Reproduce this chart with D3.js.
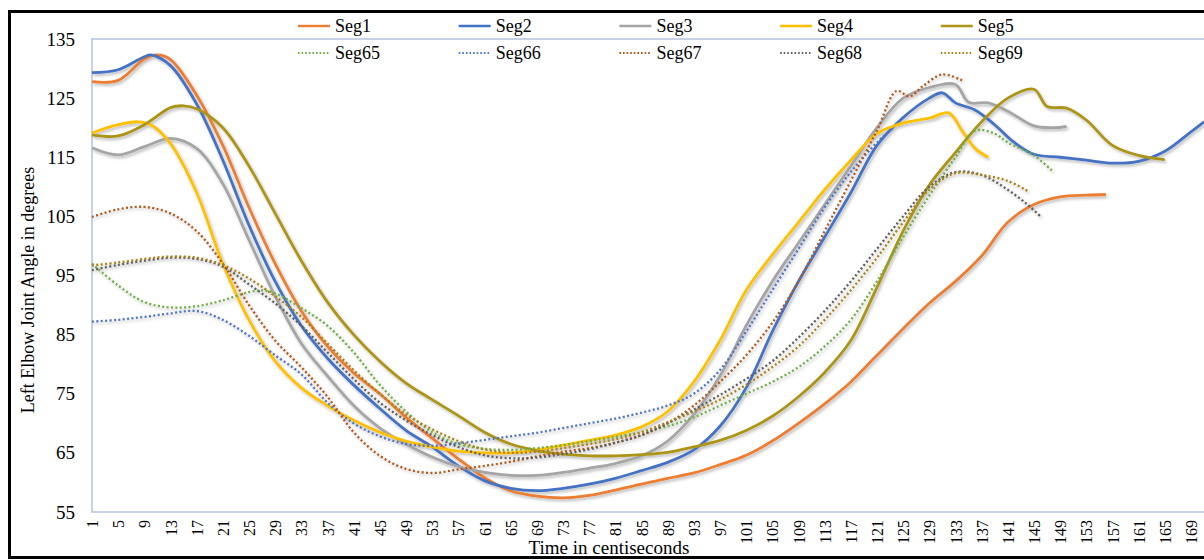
<!DOCTYPE html>
<html lang="en">
  <head>
    <meta charset="utf-8">
    <title>Left Elbow Joint Angle</title>
    <script src="https://cdn.jsdelivr.net/npm/d3@7"></script>
    <style>
      body { margin: 0; background: #fff; }
      svg text { font-family: "Liberation Serif", "Times New Roman", serif; fill: #000; }
    </style>
  </head>
  <body>
    <div id="chart"></div>
    <script>

// [time in centiseconds, angle in degrees]
var seg1 = [[1,127.8],[5,128],[9,131.6],[11,132.3],[13,131.5],[17,125.5],[21,117],[25,106.5],[29,97],[33,89],[37,83],[41,78.5],[45,75],[49,71],[53,67.5],[57,64],[61,60.8],[65,58.6],[69,57.7],[73,57.4],[77,57.8],[81,58.7],[85,59.7],[89,60.7],[93,61.6],[97,63],[101,64.6],[105,67],[109,70],[113,73.3],[117,77],[121,81.5],[125,86],[129,90.3],[133,94],[137,98.3],[141,104],[145,107],[149,108.3],[153,108.6],[156,108.7]];
var seg2 = [[1,129.3],[5,129.8],[9,132],[10,132.3],[13,130.5],[17,124],[21,114.5],[25,103.5],[29,94],[33,86.5],[37,81],[41,76.5],[45,72.5],[49,68.8],[53,66],[57,62.8],[61,60.3],[65,59],[69,58.6],[73,59],[77,59.7],[81,60.7],[85,62],[89,63.4],[93,65.5],[97,69.5],[101,76],[105,85.5],[109,94],[113,101.5],[117,109],[121,117],[125,121.7],[129,125],[131,125.9],[133,124.2],[136,123],[139,120.5],[142,117.5],[145,115.5],[149,115],[153,114.5],[157,114],[161,114.3],[165,116],[169,119.3],[171,121]];
var seg3 = [[1,116.6],[5,115.4],[9,116.8],[13,118.2],[17,116.5],[21,110.5],[25,101],[29,91.5],[33,83.5],[37,78],[41,73],[45,69.2],[49,66.5],[53,64.3],[57,62.7],[61,61.7],[65,61.2],[69,61.2],[73,61.7],[77,62.4],[81,63.2],[85,64.5],[89,67],[93,71.5],[97,78],[101,86.5],[105,94],[109,100.5],[113,107],[117,113.5],[121,120],[125,125],[129,126.8],[133,127.3],[135,124.3],[138,124.2],[141,122.8],[145,120.3],[148,120],[150,120.2]];
var seg4 = [[1,119.1],[5,120.5],[8,121],[10,120.5],[13,117.3],[17,109],[21,97],[25,87.5],[29,80.5],[33,76],[37,73],[41,70.5],[45,68.5],[49,67],[53,66],[57,65.3],[61,65],[65,65],[69,65.5],[73,66.3],[77,67.1],[81,68],[85,69.4],[89,72],[93,77],[97,84],[101,92.5],[105,98.5],[109,104],[113,109.5],[117,114.5],[121,119],[125,120.8],[129,121.6],[132,122.5],[134,119.5],[136,116.5],[138,115]];
var seg5 = [[1,118.8],[5,118.6],[9,120.5],[13,123.4],[15,123.7],[17,123.2],[21,120],[25,113.5],[29,105.5],[33,97.5],[37,90.5],[41,85],[45,80.5],[49,76.8],[53,74],[57,71.3],[61,68.5],[65,66.5],[69,65.4],[73,64.8],[77,64.5],[81,64.5],[85,64.7],[89,65.1],[93,66],[97,67.1],[101,68.8],[105,71.2],[109,74.5],[113,78.6],[117,84],[121,93],[125,102.5],[129,110.3],[133,115.8],[137,121],[141,125],[145,126.5],[147,123.6],[150,123.3],[153,121.3],[157,117],[161,115.3],[165,114.6]];
var seg65 = [[1,97],[5,93.3],[9,90.5],[13,89.6],[17,89.8],[21,90.8],[25,92.2],[27,92.5],[29,92],[33,89.5],[37,86.5],[41,82],[45,76.5],[49,72],[53,68.5],[57,66.5],[61,65.7],[65,65.5],[69,65.8],[73,66.3],[77,67],[81,67.7],[85,68.5],[89,69.5],[93,71],[97,73],[101,75],[105,77],[109,79.5],[113,83],[117,87.5],[121,94],[125,101.5],[129,108.5],[133,115],[136,119.5],[139,119],[141,117.5],[145,115.3],[148,112.5]];
var seg66 = [[1,87.2],[5,87.5],[9,88],[13,88.6],[17,89],[21,87.5],[25,84.8],[29,81.5],[33,78.3],[37,73.5],[41,70],[45,67.8],[49,66.5],[53,66.2],[57,66.6],[61,67.2],[65,67.8],[69,68.4],[73,69.2],[77,70],[81,70.8],[85,71.8],[89,73],[93,75],[97,79],[101,85.5],[105,92.5],[109,99.5],[113,106.5],[117,112.5],[121,117.5],[123,119.5]];
var seg67 = [[1,104.9],[5,106.2],[9,106.6],[13,105.5],[17,102.5],[21,97],[25,90],[29,84],[33,79.5],[37,74.5],[41,68.5],[45,64.5],[49,62.3],[53,61.6],[57,62.2],[61,62.8],[65,63.5],[69,64.4],[73,65.2],[77,65.8],[81,66.7],[85,68],[89,70],[93,73],[97,77],[101,81.5],[105,87],[109,94],[113,102.5],[117,111],[121,119.5],[124,126.2],[126,125.3],[128,127],[131,129],[134,128]];
var seg68 = [[1,95.9],[5,96.8],[9,97.5],[13,98],[17,97.8],[21,96.5],[25,93.5],[29,90.3],[33,86.5],[37,82],[41,77.5],[45,73.5],[49,70.5],[53,68],[57,66],[61,64.6],[65,64.1],[69,64.2],[73,64.8],[77,65.6],[81,66.7],[85,68],[89,70],[93,72.3],[97,74.8],[101,77.5],[105,80.5],[109,84.5],[113,89],[117,94],[121,99.5],[125,105],[129,110],[133,112.5],[137,112],[141,109.5],[144,107],[146,105]];
var seg69 = [[1,96.7],[5,97.2],[9,97.8],[13,98.2],[17,98],[21,96.8],[25,94.5],[29,91.5],[33,88],[37,83.5],[41,79],[45,75],[49,71.5],[53,69],[57,67],[61,65.6],[65,65],[69,65.2],[73,65.8],[77,66.5],[81,67.3],[85,68.5],[89,70.2],[93,72],[97,74],[101,76.5],[105,79.5],[109,83],[113,87.5],[117,92.5],[121,98],[125,104],[129,109.5],[133,112.3],[137,112],[141,111],[144,109.3]];

var seriesNames = ["Seg1", "Seg2", "Seg3", "Seg4", "Seg5", "Seg65", "Seg66", "Seg67", "Seg68", "Seg69"];
var seriesData = [seg1, seg2, seg3, seg4, seg5, seg65, seg66, seg67, seg68, seg69];
var seriesColors = ["#ED7D31", "#4472C4", "#A5A5A5", "#FFC000", "#AC9417",
                    "#70AD47", "#4F74C6", "#B4561A", "#5E5E5E", "#A8801A"];
var seriesDotted = [false, false, false, false, false, true, true, true, true, true];

var yTicks = [55, 65, 75, 85, 95, 105, 115, 125, 135];
var xTicks = d3.range(1, 170, 4);

var width = 1204, height = 560;
var plot = {left: 92, right: 1204, top: 39, bottom: 512};

var svg = d3.select("#chart").append("svg")
    .attr("width", width)
    .attr("height", height);

var defs = svg.append("defs");
defs.append("filter")
    .attr("id", "shadow")
    .attr("x", "-5%").attr("y", "-5%")
    .attr("width", "110%").attr("height", "110%")
  .append("feDropShadow")
    .attr("dx", 1.5).attr("dy", 2)
    .attr("stdDeviation", 1.5)
    .attr("flood-color", "#000")
    .attr("flood-opacity", 0.28);

// outer frame
svg.append("rect")
    .attr("x", 9.5).attr("y", 11.5)
    .attr("width", 1260).attr("height", 546)
    .attr("fill", "#fff")
    .attr("stroke", "#000")
    .attr("stroke-width", 3);

var x = d3.scaleLinear().domain([1, 171]).range([plot.left, plot.right]);
var y = d3.scaleLinear().domain([55, 135]).range([plot.bottom, plot.top]);

// plot area border
svg.append("rect")
    .attr("x", plot.left).attr("y", plot.top)
    .attr("width", plot.right - plot.left + 10)
    .attr("height", plot.bottom - plot.top)
    .attr("fill", "none")
    .attr("stroke", "#B4C3DE")
    .attr("stroke-width", 1.5);

var yAxis = svg.append("g")
    .attr("transform", "translate(" + plot.left + ",0)")
    .call(d3.axisLeft(y).tickValues(yTicks).tickSize(0).tickPadding(17));
yAxis.select(".domain").remove();
yAxis.selectAll("text")
    .style("font-size", "19px")
    .style("font-family", "'Liberation Serif', serif")
    .attr("fill", "#000");

var xAxis = svg.append("g")
    .attr("transform", "translate(0," + plot.bottom + ")")
    .call(d3.axisBottom(x).tickValues(xTicks).tickSize(0));
xAxis.select(".domain").remove();
xAxis.selectAll("text")
    .attr("transform", "rotate(-90)")
    .attr("x", -8)
    .attr("y", 0)
    .attr("dy", "0.35em")
    .style("text-anchor", "end")
    .style("font-size", "16px")
    .style("font-family", "'Liberation Serif', serif")
    .attr("fill", "#000");

svg.append("text")
    .attr("x", 609).attr("y", 554)
    .attr("text-anchor", "middle")
    .style("font-size", "19px")
    .text("Time in centiseconds");

svg.append("text")
    .attr("transform", "translate(34,290) rotate(-90)")
    .attr("text-anchor", "middle")
    .style("font-size", "18px")
    .text("Left Elbow Joint Angle in degrees");

var line = d3.line()
    .x(function(d) { return x(d[0]); })
    .y(function(d) { return y(d[1]); })
    .curve(d3.curveCatmullRom.alpha(0.5));

svg.append("g")
    .attr("filter", "url(#shadow)")
  .selectAll("path")
    .data(seriesData)
    .enter().append("path")
    .attr("d", line)
    .attr("fill", "none")
    .attr("stroke", function(d, i) { return seriesColors[i]; })
    .attr("stroke-width", function(d, i) { return seriesDotted[i] ? 2.3 : 2.8; })
    .attr("stroke-dasharray", function(d, i) { return seriesDotted[i] ? "2,2.4" : null; })
    .attr("stroke-linejoin", "round");

// legend, two rows of five
var legend = svg.append("g")
  .selectAll("g")
    .data(seriesNames)
    .enter().append("g")
    .attr("transform", function(d, i) {
      return "translate(" + (298 + (i % 5) * 160.7) + "," + (i < 5 ? 26 : 53) + ")";
    });

legend.append("line")
    .attr("x1", 0).attr("x2", 32)
    .attr("stroke", function(d, i) { return seriesColors[i]; })
    .attr("stroke-width", function(d, i) { return seriesDotted[i] ? 1.8 : 2.4; })
    .attr("stroke-dasharray", function(d, i) { return seriesDotted[i] ? "1.6,2" : null; });

legend.append("text")
    .attr("x", 37)
    .attr("dy", "0.35em")
    .style("font-size", "18px")
    .text(function(d) { return d; });

    </script>
  </body>
</html>
